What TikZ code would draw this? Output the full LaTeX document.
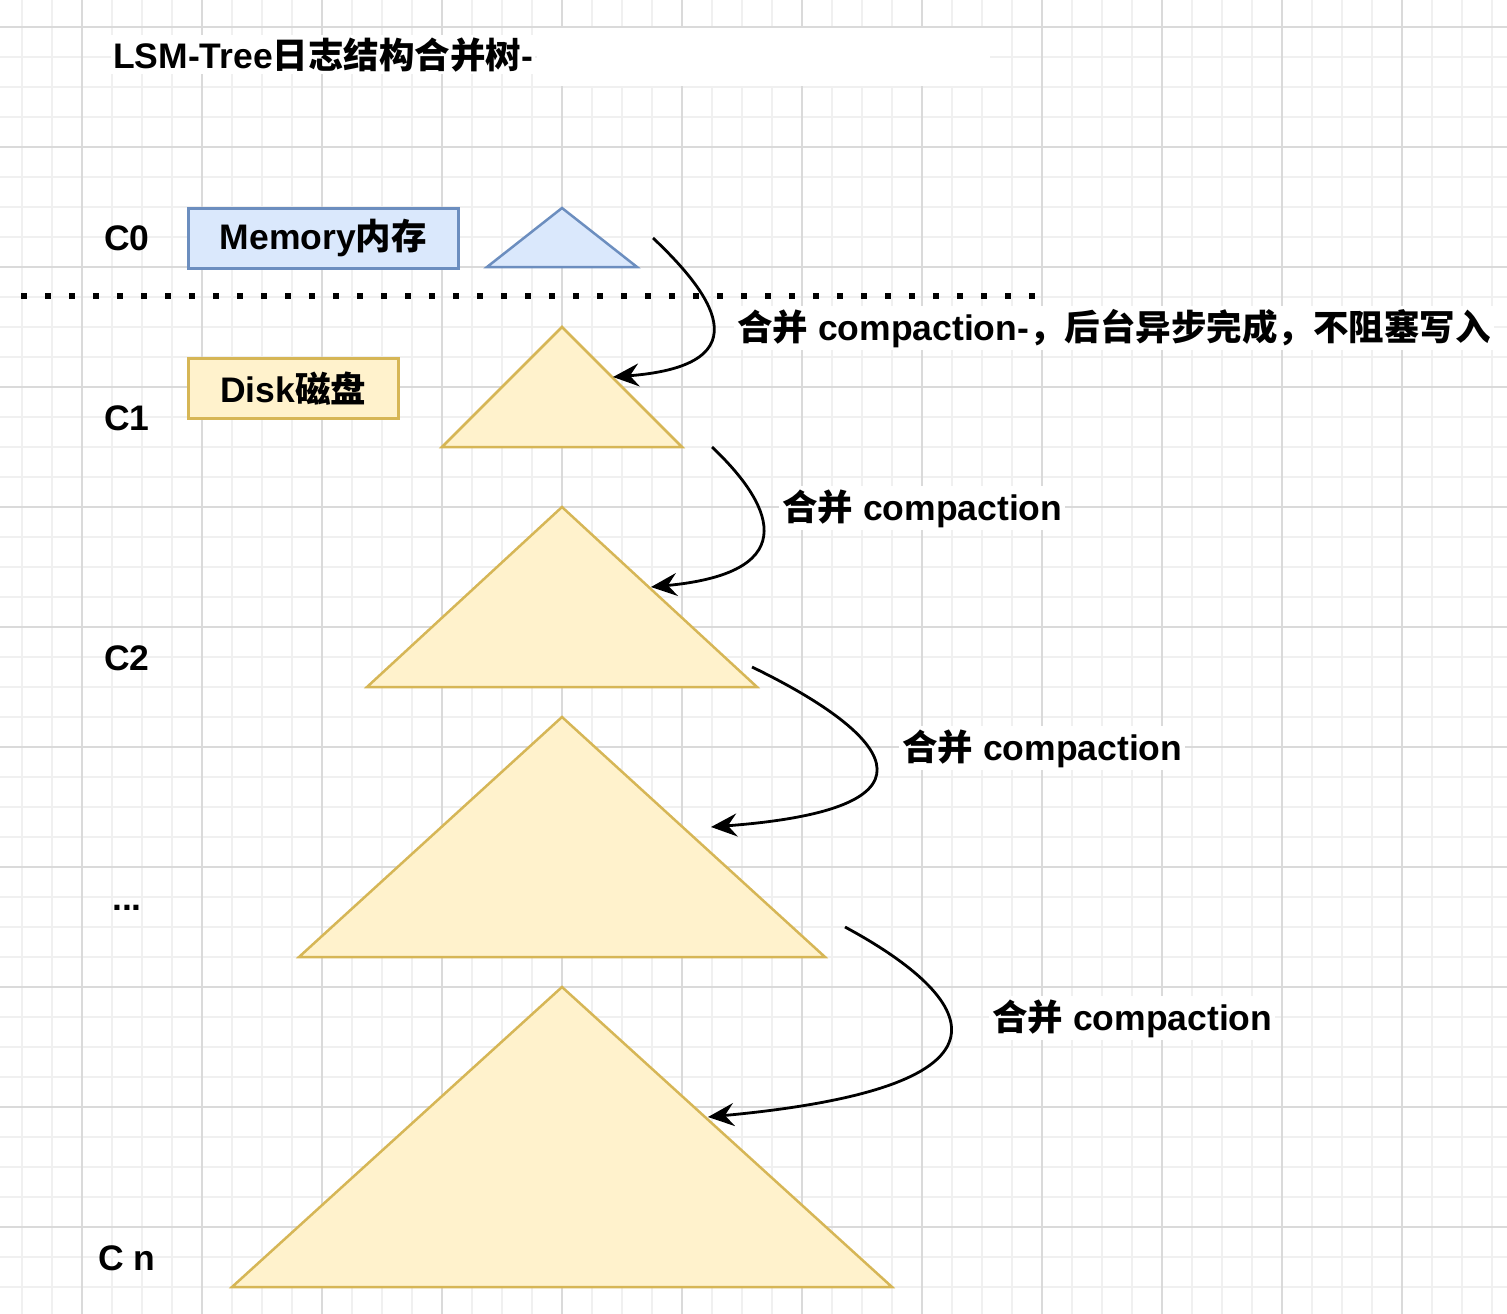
\documentclass[tikz,border=0pt]{standalone}
\usepackage{fontspec}
\setmainfont{Liberation Sans}
\newfontfamily\cjk{Noto Sans CJK SC}
\usetikzlibrary{arrows.meta}
\definecolor{gridmajor}{HTML}{DADADA}
\definecolor{gridminor}{HTML}{F0F0F0}
\definecolor{memfill}{HTML}{DAE8FC}
\definecolor{memline}{HTML}{6C8EBF}
\definecolor{diskfill}{HTML}{FFF2CC}
\definecolor{diskline}{HTML}{D6B656}
\newcommand{\zh}[1]{{\cjk #1}}
\begin{document}
\begin{tikzpicture}[x=1pt,y=-1pt,
  every node/.style={font=\fontsize{35.5}{40}\selectfont\bfseries, inner sep=0pt},
  levellabel/.style={anchor=base},
  boxnode/.style={line width=2.5pt, minimum height=60pt, anchor=north west},
  memtri/.style={draw=memline, fill=memfill, line width=2.5pt},
  disktri/.style={draw=diskline, fill=diskfill, line width=2.5pt},
  merge/.style={-{Stealth[length=26pt,width=23pt,inset=9pt]}, line width=2.8pt, black},
  lbl/.style={anchor=base west, fill=white, inner sep=3pt},
  minorline/.style={gridminor, line width=1.3pt},
  majorline/.style={gridmajor, line width=1.6pt},
]
\useasboundingbox (0,0) rectangle (1507,1314);
\fill[white] (0,0) rectangle (1507,1314);
% grid
\foreach \x in {22,52,...,1507} \draw[minorline] (\x,0) -- (\x,1314);
\foreach \y in {27,57,...,1314} \draw[minorline] (0,\y) -- (1507,\y);
\foreach \x in {82,202,...,1507} \draw[majorline] (\x,0) -- (\x,1314);
\foreach \y in {27,147,...,1314} \draw[majorline] (0,\y) -- (1507,\y);

% title
\fill[white] (537,28.5) rectangle (990,86);
\node[anchor=base west, fill=white, inner sep=2pt] (title) at (111,68) {LSM-Tree\zh{日志结构合并树}-};

% level labels
\node[levellabel] (c0) at (127,250) {C0};
\node[levellabel] (c1) at (127,430) {C1};
\node[levellabel] (c2) at (127,670) {C2};
\node[levellabel] (cdots) at (127,910) {...};
\node[levellabel] (cn) at (127,1270) {C n};

% legend boxes
\node[boxnode, draw=memline, fill=memfill, minimum width=270pt] (mem) at (187,207) {Memory\zh{内存}};
\node[boxnode, draw=diskline, fill=diskfill, minimum width=210pt] (disk) at (187,357) {Disk\zh{磁盘}};

% separator
\coordinate (sepL) at (21,296);
\coordinate (sepR) at (1035,296);
\draw[line width=6pt, dash pattern=on 6pt off 18pt] (sepL) -- (sepR);

% trees
\draw[memtri] (487,267) -- (562,208) -- (637,267) -- cycle;
\draw[disktri] (442,447) -- (562,327) -- (682,447) -- cycle;
\draw[disktri] (367,687) -- (562,507) -- (757,687) -- cycle;
\draw[disktri] (299,957) -- (562,717) -- (825,957) -- cycle;
\draw[disktri] (232,1287) -- (562,987) -- (892,1287) -- cycle;

% arrow endpoints
\coordinate (s1) at (653,238);  \coordinate (e1) at (613,377);
\coordinate (s2) at (712,447);  \coordinate (e2) at (651,587);
\coordinate (s3) at (752,667);  \coordinate (e3) at (711,827);
\coordinate (s4) at (845,927);  \coordinate (e4) at (708,1117);

\draw[merge] (s1) .. controls (708,290) and (768,365) .. (e1);
\draw[merge] (s2) .. controls (768,500) and (810,572) .. (e2);
\draw[merge] (s3) .. controls (882,730) and (962,808) .. (e3);
\draw[merge] (s4) .. controls (962,990) and (1052,1085) .. (e4);

% labels
\node[lbl] (l1) at (734,340) {\zh{合并} compaction-\zh{，后台异步完成，不阻塞写入}};
\node[lbl] (l2) at (779,520) {\zh{合并} compaction};
\node[lbl] (l3) at (899,760) {\zh{合并} compaction};
\node[lbl] (l4) at (989,1030) {\zh{合并} compaction};
\end{tikzpicture}
\end{document}
